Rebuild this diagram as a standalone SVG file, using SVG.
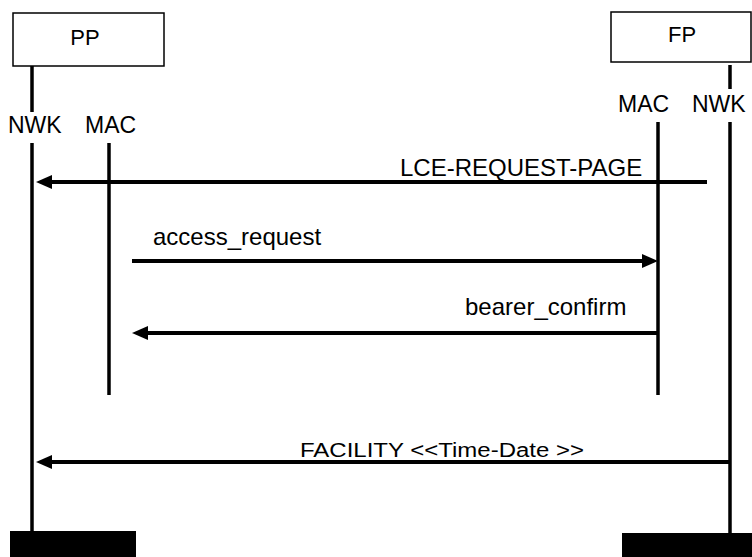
<svg xmlns="http://www.w3.org/2000/svg" width="752" height="557" viewBox="0 0 752 557">
<style>
.box{fill:#fff;stroke:#000;stroke-width:1.5}
.life{stroke:#000;stroke-width:3.5;fill:none}
.msg{stroke:#000;stroke-width:4;fill:none}
.lbl{font-family:"Liberation Sans",Arial,sans-serif;font-size:23px;fill:#000}
.ttl{font-family:"Liberation Sans",Arial,sans-serif;font-size:22px;fill:#000}
.mtx{font-family:"Liberation Sans",Arial,sans-serif;font-size:24px;fill:#000}
.foot{fill:#000}
</style>
<defs>
<marker id="ah" markerUnits="userSpaceOnUse" markerWidth="16" markerHeight="16" viewBox="0 -8 16 16" refX="6" refY="0" orient="auto">
<path d="M0,-7 L16,0 L0,7 z" fill="#000"/>
</marker>
</defs>
<rect width="752" height="557" fill="#fff"/>
<g id="PP">
<rect class="box" x="13" y="13" width="151" height="53"/>
<text class="ttl" x="85" y="45" text-anchor="middle">PP</text>
<line class="life" x1="32" y1="66" x2="32" y2="112"/>
<text class="lbl" x="8" y="133">NWK</text>
<text class="lbl" x="85" y="133">MAC</text>
<line class="life" x1="32" y1="143" x2="32" y2="535"/>
<line class="life" x1="109" y1="143" x2="109" y2="395"/>
<rect class="foot" x="10" y="531" width="126" height="26"/>
</g>
<g id="FP">
<rect class="box" x="611" y="12" width="140" height="50"/>
<text class="ttl" x="682" y="42" text-anchor="middle">FP</text>
<line class="life" x1="730" y1="65" x2="730" y2="89"/>
<text class="lbl" x="618" y="112">MAC</text>
<text class="lbl" x="692" y="112">NWK</text>
<line class="life" x1="658" y1="122" x2="658" y2="395"/>
<line class="life" x1="730" y1="122" x2="730" y2="537"/>
<rect class="foot" x="622" y="533" width="130" height="24"/>
</g>
<g id="connectors">
<line class="msg" x1="707" y1="182" x2="46" y2="182" marker-end="url(#ah)"/>
<text class="mtx" x="400" y="176">LCE-REQUEST-PAGE</text>
<line class="msg" x1="132" y1="261" x2="648" y2="261" marker-end="url(#ah)"/>
<text class="mtx" x="153" y="245">access_request</text>
<line class="msg" x1="658" y1="333" x2="142" y2="333" marker-end="url(#ah)"/>
<text class="mtx" x="465" y="315">bearer_confirm</text>
<line class="msg" x1="730" y1="462" x2="46" y2="462" marker-end="url(#ah)"/>
<text class="mtx" x="300" y="456.5" style="font-size:20px" textLength="284" lengthAdjust="spacingAndGlyphs">FACILITY &lt;&lt;Time-Date &gt;&gt;</text>
</g>
</svg>
